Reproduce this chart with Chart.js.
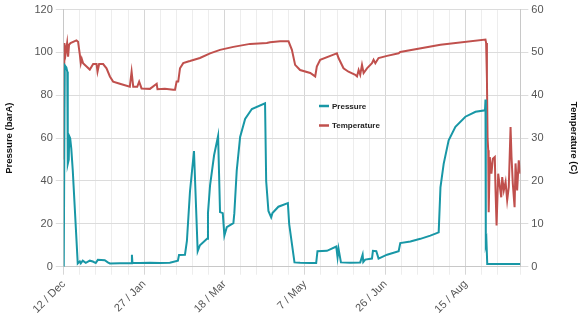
<!DOCTYPE html>
<html>
<head>
<meta charset="utf-8">
<script src="https://cdn.jsdelivr.net/npm/chart.js@4/dist/chart.umd.min.js"></script>
<style>
  html, body { margin: 0; padding: 0; background: #fff; }
  #wrap { width: 583px; height: 321px; }
</style>
</head>
<body>
<div id="wrap"><canvas id="lineChart"></canvas></div>
<script>
// x values are days counted from the first tick (12 / Dec), labels every 50 days
var tickLabels = ["12 / Dec", "27 / Jan", "18 / Mar", "7 / May", "26 / Jun", "15 / Aug"];

var pressureDays = [0, 0.6, 1.6, 2.2, 2.5, 3.1, 3.4, 4.0, 4.7, 5.6, 8.7, 10.0, 10.6, 11.8, 13.7, 16.2, 18.1, 19.9, 21.2, 25.5, 27.4, 28.7, 34.9, 42.1, 42.4, 42.7, 47.4, 53.6, 59.8, 66.0, 71.0, 71.7, 75.4, 76.6, 78.5, 81.0, 83.3, 84.7, 89.1, 89.7, 91.0, 93.5, 96.0, 97.2, 98.9, 99.9, 101.4, 105.5, 106.1, 107.6, 109.7, 112.8, 117.0, 125.2, 125.9, 127.3, 129.0, 129.8, 133.5, 139.4, 140.2, 143.5, 147.0, 153.3, 157.0, 157.8, 163.7, 169.5, 170.3, 170.9, 172.4, 178.2, 184.4, 185.9, 186.3, 187.5, 191.7, 192.3, 194.4, 195.8, 201.1, 208.3, 209.3, 215.6, 221.8, 228.0, 233.2, 234.3, 236.3, 239.4, 243.6, 249.8, 256.1, 262.0, 262.3, 262.5, 262.9, 263.4, 284];
var pressure = [0, 94, 93, 91, 48, 50, 61, 60, 55, 45, 1.5, 2.5, 1.6, 2.8, 1.8, 2.8, 2.4, 1.7, 3.2, 3, 2, 1.5, 1.6, 1.6, 5.6, 1.8, 1.7, 1.8, 1.7, 1.8, 2.8, 5.5, 5.6, 12, 35, 54, 7.2, 10, 13, 25, 38, 52, 61, 25.5, 25, 14.5, 18.4, 20.3, 25, 45, 60.6, 69, 73.6, 76.3, 40, 26, 23, 25, 28, 29.7, 20, 2, 1.8, 1.7, 1.7, 7.2, 7.4, 9.4, 4.4, 8.4, 2, 1.8, 2, 5.6, 2.2, 3.3, 3.8, 7.4, 7.2, 3.8, 5.6, 7.2, 11, 11.8, 13, 14.5, 16, 37, 48, 59, 65.3, 70, 72.3, 73, 78, 10.6, 12, 1.2, 1.2];

var tempDays = [0, 0.4, 1.2, 2.1, 2.7, 3.3, 4.2, 7.9, 8.9, 10.0, 10.6, 11.2, 12.0, 16.2, 18.3, 20.4, 21.0, 22.0, 24.5, 26.6, 28.7, 30.7, 34.9, 41.1, 42.2, 43.2, 45.7, 46.9, 48.4, 53.6, 57.8, 58.3, 62.9, 68.1, 69.2, 70.2, 71.2, 72.3, 74.3, 77.4, 78.5, 84.7, 91.0, 97.2, 105.5, 115.9, 126.3, 128.3, 134.6, 139.8, 141.9, 143.9, 147.0, 153.3, 156.4, 157.4, 159.5, 167.8, 169.9, 170.9, 174.0, 177.1, 181.3, 182.4, 183.4, 184.4, 185.5, 186.5, 188.6, 191.7, 192.7, 193.8, 195.8, 201.1, 208.3, 209.3, 234.3, 262.3, 262.7, 263.2, 263.6, 264.0, 264.3, 265.0, 266.0, 266.9, 268.1, 268.5, 269.2, 270.2, 271.0, 272.1, 272.7, 273.7, 274.8, 275.8, 276.8, 277.9, 278.5, 279.3, 280.4, 281.0, 282.0, 283.0, 284.0];
var temperature = [25, 52.2, 49.8, 52.2, 49, 51.8, 52.2, 52.8, 52.5, 49.5, 47.5, 48.5, 47.5, 46, 47.3, 47.3, 45.5, 47.3, 47.3, 46.3, 44.4, 43.2, 42.7, 42, 45.5, 42, 42, 43.2, 41.6, 41.5, 42.7, 41.4, 41.5, 41.3, 41.3, 43.2, 43.2, 46.3, 47.5, 47.9, 48, 48.7, 49.8, 50.6, 51.3, 52, 52.2, 52.4, 52.6, 52.6, 50.6, 47.1, 45.9, 45.2, 44.4, 46.7, 48.3, 49.5, 49.8, 48.7, 46.3, 45.5, 44.8, 44.4, 45.9, 44.8, 47.1, 45.2, 46.3, 47.5, 48.3, 47.5, 48.7, 49.2, 49.8, 50.1, 51.8, 53, 52.2, 44, 30, 27.2, 12.7, 25.6, 21.7, 25.2, 25.6, 18.6, 9.6, 21.7, 19.4, 16.2, 20.9, 17.8, 19.8, 15.5, 18.6, 32.6, 25.6, 19.4, 13.9, 24.1, 17.8, 24.8, 21.7];

function toPoints(xs, ys) {
  return xs.map(function (x, i) { return { x: x, y: ys[i] }; });
}

// legend drawn inside the plot, next to the middle of the chart
var innerLegend = {
  id: "innerLegend",
  afterDraw: function (chart) {
    var ctx = chart.ctx;
    var x0 = 319, y0 = 106, gap = 19.5;
    ctx.save();
    ctx.font = "bold 8px 'Liberation Sans', Arial, sans-serif";
    ctx.textBaseline = "middle";
    chart.data.datasets.forEach(function (ds, i) {
      var y = y0 + i * gap;
      ctx.strokeStyle = ds.borderColor;
      ctx.lineWidth = 2.5;
      ctx.beginPath();
      ctx.moveTo(x0, y);
      ctx.lineTo(x0 + 10, y);
      ctx.stroke();
      ctx.fillStyle = "#222";
      ctx.fillText(ds.label, x0 + 13, y + 0.5);
    });
    ctx.restore();
  }
};

var ctx = document.getElementById("lineChart").getContext("2d");
var lineChart = new Chart(ctx, {
  type: "line",
  data: {
    datasets: [
      {
        label: "Pressure",
        data: toPoints(pressureDays, pressure),
        borderColor: "#1897a6",
        borderWidth: 2,
        pointRadius: 0,
        tension: 0,
        yAxisID: "y",
      },
      {
        label: "Temperature",
        data: toPoints(tempDays, temperature),
        borderColor: "#c0504d",
        borderWidth: 2,
        pointRadius: 0,
        tension: 0,
        yAxisID: "y1",
      },
    ],
  },
  options: {
    responsive: true,
    maintainAspectRatio: false,
    animation: false,
    layout: { padding: { left: 4, right: 4, top: 5, bottom: 2 } },
    plugins: {
      legend: { display: false },
      tooltip: { enabled: false },
    },
    scales: {
      x: {
        type: "linear",
        min: 0,
        max: 284,
        grid: {
          color: function (c) {
            return c.tick && c.tick.value % 50 === 0 ? "#d6d6d6" : "#ededed";
          },
          tickLength: 8,
        },
        border: { color: "#c8c8c8" },
        ticks: {
          stepSize: 10,
          autoSkip: false,
          maxRotation: 45,
          minRotation: 45,
          color: "#555",
          font: { family: "'Liberation Sans', Arial, sans-serif", size: 11 },
          callback: function (v) {
            return v % 50 === 0 ? tickLabels[v / 50] : "";
          },
        },
      },
      y: {
        position: "left",
        min: 0,
        max: 120,
        grid: { color: "#dcdcdc", tickLength: 8 },
        border: { color: "#c8c8c8" },
        ticks: {
          stepSize: 20,
          color: "#555",
          font: { family: "'Liberation Sans', Arial, sans-serif", size: 11 },
        },
        title: {
          display: true,
          text: "Pressure (barA)",
          color: "#111",
          padding: { top: 0, bottom: 16 },
          font: { family: "'Liberation Sans', Arial, sans-serif", size: 9.5, weight: "bold" },
        },
      },
      y1: {
        position: "right",
        min: 0,
        max: 60,
        grid: { drawOnChartArea: false, color: "#dcdcdc", tickLength: 8 },
        border: { color: "#c8c8c8" },
        ticks: {
          stepSize: 10,
          color: "#555",
          font: { family: "'Liberation Sans', Arial, sans-serif", size: 11 },
        },
        title: {
          display: true,
          text: "Temperature (C)",
          color: "#111",
          padding: { top: 0, bottom: 21 },
          font: { family: "'Liberation Sans', Arial, sans-serif", size: 9.5, weight: "bold" },
        },
      },
    },
  },
  plugins: [innerLegend],
});
</script>
</body>
</html>
